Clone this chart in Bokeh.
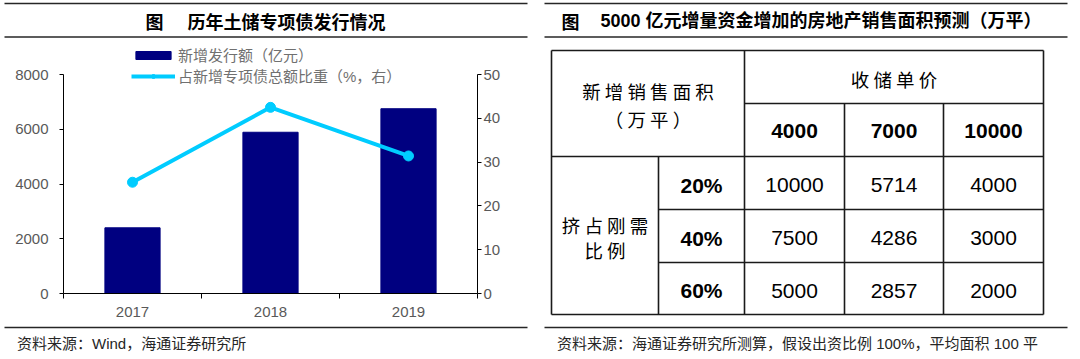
import numpy as np
from bokeh.plotting import figure
from bokeh.models import (ColumnDataSource, Range1d, LinearAxis, FixedTicker,
                          Legend, LegendItem)
from bokeh.layouts import row, column
from bokeh.embed import file_html
from bokeh.resources import INLINE
from bokeh.core.properties import value

# ---------------- data ----------------
years = ["2017", "2018", "2019"]
issuance = [2400, 5890, 6750]        # 新增发行额（亿元）
share_pct = [25.4, 42.5, 31.4]       # 占新增专项债总额比重（%，右）
left_ticks = [0, 2000, 4000, 6000, 8000]
right_ticks = [0, 10, 20, 30, 40, 50]

left_title = "历年土储专项债发行情况"
left_source = "资料来源：Wind，海通证券研究所"
bar_label = "新增发行额（亿元）"
line_label = "占新增专项债总额比重（%，右）"

right_title = "5000 亿元增量资金增加的房地产销售面积预测（万平）"
right_source = "资料来源：海通证券研究所测算，假设出资比例 100%，平均面积 100 平"
corner_lines = ["新 增 销 售 面 积", "（ 万 平 ）"]
price_header = "收 储 单 价"
prices = ["4000", "7000", "10000"]
ratio_header = ["挤 占 刚 需", "比 例"]
ratios = ["20%", "40%", "60%"]
area_20 = [10000, 5714, 4000]
area_40 = [7500, 4286, 3000]
area_60 = [5000, 2857, 2000]

# ---------------- styles ----------------
CJK = "Noto Sans CJK SC"
MIX = "Liberation Sans, Noto Sans CJK SC"
RULE = "#262626"
NAVY = "#000080"
CYAN = "#00CCFF"
GREY = "#595959"


def no_align(f):
    if "frame_align" in f.properties():
        f.frame_align = False
    return f


def blank(width, height, xr, yr):
    f = figure(width=width, height=height, x_range=Range1d(*xr), y_range=Range1d(*yr),
               x_axis_type=None, y_axis_type=None, toolbar_location=None,
               output_backend="svg", min_border=0, outline_line_color=None)
    f.grid.visible = False
    return no_align(f)


title_kw = dict(text_font_size=value("18px"), text_font_style="bold",
                text_baseline="middle", text_align="left", text_color="black")
src_kw = dict(text_font=value(MIX), text_font_size=value("15px"),
              text_baseline="middle", text_align="left", text_color="#262626")

# ---------------- left title ----------------
tL = blank(540, 46, (0, 540), (46, 0))
tL.segment(x0=[4, 4], y0=[3, 36.5], x1=[527, 527], y1=[3, 36.5], line_color=RULE, line_width=1.6)
tL.text(x=[145], y=[20], text=["图"], text_font=value(CJK), **title_kw)
tL.text(x=[187], y=[20], text=[left_title], text_font=value(CJK), **title_kw)

# ---------------- chart ----------------
PLOT_TOP, PLOT_BOTTOM, FRAME_TOP = 74, 293, 46
stretch = (PLOT_BOTTOM - FRAME_TOP) / (PLOT_BOTTOM - PLOT_TOP)

xpos = np.arange(len(years)) + 0.5
src = ColumnDataSource(dict(x=xpos, issuance=issuance, share=share_pct, year=years))

p = figure(frame_width=414, frame_height=PLOT_BOTTOM - FRAME_TOP,
           min_border_left=63, min_border_right=63, min_border_top=0, min_border_bottom=32,
           x_range=Range1d(0, len(years)),
           y_range=Range1d(0, left_ticks[-1] * stretch),
           x_axis_type=None, y_axis_type=None, toolbar_location=None,
           output_backend="svg", outline_line_color=None)
no_align(p)
p.grid.visible = False
p.extra_y_ranges = {"right": Range1d(0, right_ticks[-1] * stretch)}

bars = p.vbar(x="x", top="issuance", width=0.4, source=src,
              fill_color=NAVY, line_color=NAVY)
ln = p.line("x", "share", source=src, y_range_name="right", line_color=CYAN, line_width=4)
mk = p.scatter("x", "share", source=src, y_range_name="right", size=10,
               fill_color=CYAN, line_color=CYAN)


def style_axis(ax):
    ax.axis_line_color = "black"
    ax.axis_line_width = 1
    ax.major_tick_line_color = "black"
    ax.minor_tick_line_color = "black"
    ax.major_label_text_font = "Liberation Sans"
    ax.major_label_text_font_size = "15px"
    ax.major_label_text_color = GREY


xax = LinearAxis(ticker=FixedTicker(ticks=list(xpos), minor_ticks=list(range(len(years) + 1))),
                 major_label_overrides={float(v): y for v, y in zip(xpos, years)})
style_axis(xax)
xax.major_tick_out = 0
xax.major_tick_in = 0
xax.minor_tick_out = 5
xax.minor_tick_in = 0
xax.major_label_standoff = 8
p.add_layout(xax, "below")

yl = LinearAxis(ticker=FixedTicker(ticks=left_ticks, minor_ticks=[]),
                bounds=(left_ticks[0], left_ticks[-1]))
style_axis(yl)
yl.major_tick_out = 4
yl.major_tick_in = 0
yl.major_label_standoff = 11
p.add_layout(yl, "left")

yr = LinearAxis(y_range_name="right", ticker=FixedTicker(ticks=right_ticks, minor_ticks=[]),
                bounds=(right_ticks[0], right_ticks[-1]))
style_axis(yr)
yr.major_tick_out = 4
yr.major_tick_in = 0
yr.major_label_standoff = 2
p.add_layout(yr, "right")

legend = Legend(items=[LegendItem(label=bar_label, renderers=[bars]),
                       LegendItem(label=line_label, renderers=[ln, mk])],
                location=(68, 207), orientation="vertical",
                glyph_width=44, glyph_height=10, label_height=16, spacing=0,
                padding=0, margin=0, label_standoff=3,
                label_text_font=MIX, label_text_font_size="15px",
                label_text_color="#707070",
                background_fill_alpha=0, border_line_alpha=0)
p.add_layout(legend)

# ---------------- left source ----------------
bL = blank(540, 34, (0, 540), (359, 325))
bL.segment(x0=[4], y0=[327], x1=[527], y1=[327], line_color=RULE, line_width=1.6)
bL.text(x=[16.5], y=[343], text=[left_source], **src_kw)

# ---------------- right panel ----------------
R = blank(540, 359, (540, 1080), (359, 0))
R.segment(x0=[544, 544, 544], y0=[3, 36.5, 327], x1=[1067, 1067, 1067], y1=[3, 36.5, 327],
          line_color=RULE, line_width=1.6)
R.text(x=[561], y=[20], text=["图"], text_font=value(CJK), **title_kw)
R.text(x=[600], y=[20], text=[right_title], text_font=value(MIX), **title_kw)
R.text(x=[556.5], y=[343], text=[right_source], **src_kw)

# table geometry (layout)
cx = [551, 658, 744, 844, 943, 1043]
ry = [50, 103, 156, 209, 262, 314]
hx0 = [cx[0], cx[2], cx[0], cx[1], cx[1], cx[0]]
hx1 = [cx[5]] * 6
vy0 = [ry[0], ry[2], ry[0], ry[1], ry[1], ry[0]]
vy1 = [ry[5]] * 6
R.segment(x0=hx0, y0=ry, x1=hx1, y1=ry, line_color="#1a1a1a", line_width=1.6)
R.segment(x0=cx, y0=vy0, x1=cx, y1=vy1, line_color="#1a1a1a", line_width=1.6)

mid = lambda a, b: (a + b) / 2
cjk_kw = dict(text_font=value(CJK), text_font_size=value("18.5px"), text_baseline="middle",
              text_align="center", text_color="black")
R.text(x=[mid(cx[0], cx[2])] * 2, y=[mid(ry[0], ry[2]) - 13, mid(ry[0], ry[2]) + 15.5],
       text=corner_lines, **cjk_kw)
R.text(x=[mid(cx[2], cx[5])], y=[mid(ry[0], ry[1]) + 2], text=[price_header], **cjk_kw)
R.text(x=[mid(cx[0], cx[1])] * 2, y=[mid(ry[2], ry[5]) - 10.5, mid(ry[2], ry[5]) + 14.5],
       text=ratio_header, **cjk_kw)

num_kw = dict(text_font=value("Liberation Sans"), text_font_size=value("21px"),
              text_baseline="middle", text_align="center", text_color="black")
col_mid = [mid(cx[i], cx[i + 1]) for i in range(2, 5)]
row_mid = [mid(ry[i], ry[i + 1]) + 2 for i in range(2, 5)]
R.text(x=col_mid, y=[mid(ry[1], ry[2]) + 1] * 3, text=prices, text_font_style="bold", **num_kw)
R.text(x=[mid(cx[1], cx[2])] * 3, y=row_mid, text=ratios, text_font_style="bold", **num_kw)
vals = [area_20, area_40, area_60]
R.text(x=[c for _ in vals for c in col_mid],
       y=[r for r, v in zip(row_mid, vals) for _ in v],
       text=[str(n) for v in vals for n in v], **num_kw)

layout = row(column(tL, p, bL), R)
open("out.html", "w").write(file_html(layout, INLINE))
